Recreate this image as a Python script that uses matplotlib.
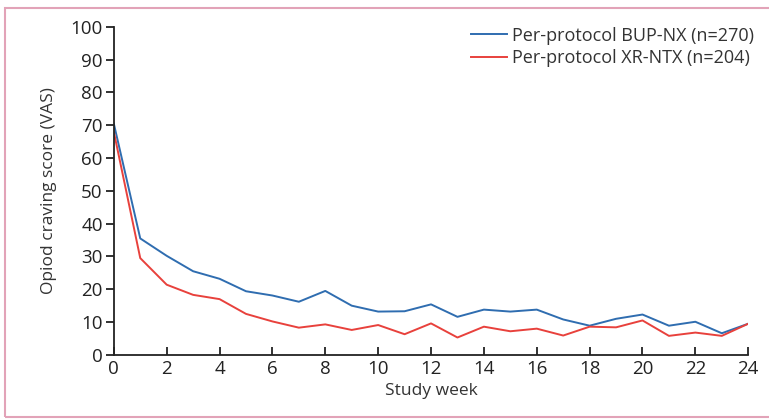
import matplotlib.pyplot as plt
from matplotlib.patches import Rectangle

plt.rcParams['font.family'] = ['Open Sans', 'DejaVu Sans']

weeks = list(range(0, 25))

bup_nx = [70.5, 35.5, 30.2, 25.5, 23.2, 19.4, 18.1, 16.2, 19.5, 15.0, 13.2, 13.3, 15.4,
          11.6, 13.8, 13.2, 13.8, 10.8, 8.9, 11.0, 12.3, 8.9, 10.1, 6.6, 9.5]
xr_ntx = [68.0, 29.5, 21.4, 18.3, 17.0, 12.5, 10.2, 8.3, 9.3, 7.6, 9.1, 6.3, 9.6,
          5.3, 8.6, 7.2, 8.0, 5.9, 8.6, 8.4, 10.5, 5.8, 6.8, 5.8, 9.5]

labels = ["Per-protocol BUP-NX (n=270)", "Per-protocol XR-NTX (n=204)"]
colors = ["#2f6db0", "#e8413c"]

fig = plt.figure(figsize=(7.69, 4.19), dpi=100)
ax = fig.add_axes([0.148, 0.153, 0.825, 0.783])

ax.plot(weeks, bup_nx, color=colors[0], lw=1.4, label=labels[0])
ax.plot(weeks, xr_ntx, color=colors[1], lw=1.4, label=labels[1])

ax.set_xlim(0, 24)
ax.set_ylim(0, 100)
ax.set_xticks(range(0, 25, 2))
ax.set_yticks(range(0, 101, 10))

for s in ["top", "right"]:
    ax.spines[s].set_visible(False)
for s in ["left", "bottom"]:
    ax.spines[s].set_linewidth(1.3)
    ax.spines[s].set_color("#222222")

ax.tick_params(axis="y", direction="out", length=6, width=1.3, labelsize=13.5,
               colors="#222222", pad=2)
ax.tick_params(axis="x", direction="in", length=6, width=1.3, labelsize=13.5,
               colors="#222222", pad=4)

ax.set_xlabel("Study week", fontsize=12.5, color="#333333", labelpad=3)
ax.set_ylabel("Opiod craving score (VAS)", fontsize=12.5, color="#333333", labelpad=10)

ax.legend(loc="upper right", bbox_to_anchor=(1.035, 1.05), frameon=False,
          fontsize=13, handlelength=2.0, handletextpad=0.3, labelspacing=0.25,
          labelcolor="#333333")

# pink frame around the panel
fig.patches.append(Rectangle((0.007, 0.005), 1.2, 0.975, transform=fig.transFigure,
                             fill=False, edgecolor="#e2a3b8", lw=1.5))

fig.savefig("out.png", dpi=100)
